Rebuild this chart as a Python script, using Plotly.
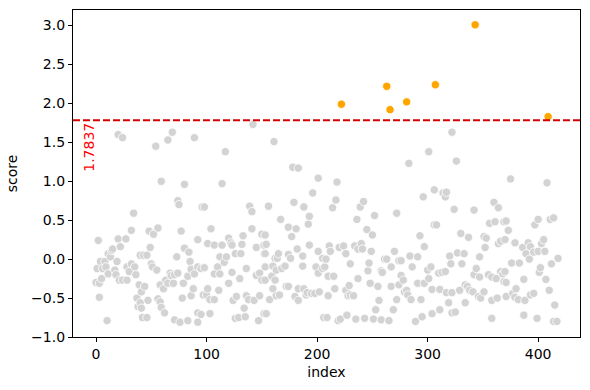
import plotly.graph_objects as go

threshold = 1.7837

# gray (below threshold) points: index and score
idx_low = [
    0, 1, 2, 3, 3, 4, 5, 6, 8, 9, 10, 11, 11, 13, 14, 15, 17, 18, 19, 20, 20, 21, 22, 24, 24, 27, 28, 28, 30, 32, 32, 34, 35, 36, 37, 38, 39, 40, 40, 41, 41, 42, 43,
    44, 46, 46, 47, 48, 49, 50, 51, 52, 54, 55, 56, 56, 58, 58, 59, 59, 61, 62, 63, 65, 65, 67, 68, 69, 70, 71, 71, 73, 74, 74, 75, 76, 77, 78, 79, 80, 80, 83, 83, 84, 85, 86, 86, 88, 89, 89, 92, 92, 92, 92, 95, 95, 96, 97,
    98, 98, 100, 101, 101, 103, 103, 104, 107, 107, 107, 110, 111, 112, 112, 114, 114, 116, 117, 118, 120, 120, 122, 123, 123, 124, 126, 126, 127, 129, 130, 131, 132, 133, 134, 135, 136, 136, 138, 139, 141, 141, 142, 143, 145, 145, 147, 148, 148, 150, 150, 152, 152, 152,
    153, 153, 153, 153, 154, 154, 156, 157, 159, 160, 160, 161, 162, 162, 163, 163, 164, 165, 166, 167, 168, 171, 172, 174, 174, 174, 176, 177, 178, 179, 180, 181, 182, 183, 183, 183, 187, 187, 188, 188, 190, 191, 192, 193, 193, 195, 196, 198, 199, 201, 201, 201, 202, 205, 205, 206,
    207, 208, 209, 210, 210, 211, 212, 214, 215, 216, 217, 218, 219, 220, 221, 224, 226, 226, 227, 228, 229, 230, 230, 233, 234, 235, 237, 237, 236, 239, 240, 241, 242, 243, 245, 246, 247, 248, 249, 250, 251, 252, 253, 255, 256, 258, 258, 259, 261,
    263, 265, 267, 267, 269, 270, 272, 272, 274, 274, 276, 276, 278, 279, 281, 282, 283, 284, 285, 286, 289, 291, 291, 293, 294, 295, 296, 297, 297, 300, 301, 301, 303, 304, 304, 306, 306, 308, 310, 311, 311, 313, 314,
    316, 316, 317, 317, 319, 320, 321, 322, 322, 322, 324, 325, 326, 327, 329, 330, 331, 333, 334, 334, 336, 337, 338, 341, 342, 342, 344, 346, 347, 347, 348, 351, 351, 352, 353, 355, 356, 358, 358, 358, 360, 361, 362, 363, 364, 364, 366, 366, 368, 369, 369,
    370, 370, 371, 371, 371, 373, 375, 376, 377, 379, 379, 380, 382, 383, 386, 387, 387, 388, 389, 391, 392, 393, 393, 396, 396, 397, 399, 400, 400, 401, 402, 403, 405, 406, 407, 408, 410, 411, 412, 414, 414, 415, 417, 418,
]
score_low = [
    -0.30, -0.12, 0.24, -0.49, -0.31, -0.03, -0.25, -0.12, -0.03, -0.10, -0.79, 0.07, -0.19, 0.03, 0.11, 0.13, -0.14, -0.20, -0.03, 1.60, 0.26, -0.27, 0.16, 1.56, -0.27, 0.26, -0.27, -0.10, -0.16, 0.37, -0.06, 0.59, -0.10, -0.20, -0.50, -0.61, -0.33, -0.56, 0.05, -0.42, -0.63, -0.75, 0.05,
    -0.35, 0.05, -0.75, -0.53, 0.36, 0.15, -0.06, -0.10, 0.32, 1.45, -0.14, 0.40, -0.51, -0.55, -0.33, 1.00, -0.62, -0.38, -0.69, -0.27, 1.53, -0.31, -0.18, -0.21, 1.63, -0.31, -0.20, -0.78, 0.03, -0.18, 0.75, 0.70, -0.81, 0.36, -0.50, -0.31, 0.14, 0.96, -0.22, -0.79, 0.09, -0.03, -0.13, -0.47, -0.38, 1.56, -0.19, 0.25, -0.10, -0.69, -0.81, -0.12, -0.71, 0.67, -0.46,
    -0.11, 0.67, -0.46, 0.20, -0.38, -0.52, -0.70, 0.39, 0.18, -0.19, -0.52, -0.10, -0.40, 0.03, -0.19, 0.97, 0.18, -0.04, 1.38, 0.03, 0.27, -0.31, 0.21, 0.18, -0.17, -0.53, 0.07, -0.76, -0.48, -0.75, -0.25, 0.07, 0.19, 0.30, -0.63, -0.74, -0.12, -0.47, -0.52, 0.68, 0.61, 0.39, 1.73, -0.53, -0.21, 0.15, -0.79, -0.18, -0.47, -0.27, 0.32, 0.18, 0.07, -0.70,
    0.31, 0.07, -0.10, -0.27, 0.19, -0.70, 0.68, -0.52, -0.22, -0.09, -0.38, 1.51, 0.01, -0.27, -0.14, -0.47, 0.01, 0.07, -0.46, 0.51, -0.12, -0.09, -0.35, 0.41, 0.06, -0.35, 0.01, 0.29, 1.18, 0.73, -0.48, 0.39, 0.13, 1.17, -0.38, -0.53, 0.04, -0.09, 0.67, -0.38, -0.46, -0.43, 0.45, 0.18, 0.55, -0.44, 0.85, -0.44, -0.10, 1.04, 0.10, -0.18, -0.42, 0.01, -0.12, -0.75,
    -0.10, 0.00, -0.75, -0.22, -0.47, 0.17, 0.10, 0.66, -0.22, -0.38, 0.76, 0.99, -0.79, 0.15, -0.77, 0.17, 0.07, -0.40, -0.72, -0.47, -0.34, -0.06, -0.46, -0.47, 0.17, -0.77, 0.13, -0.25, 0.51, 0.67, 0.20, 0.13, 0.74, -0.76, 0.38, -0.15, -0.05, -0.31, 0.10, 0.31, -0.77, 0.56, -0.65, -0.35, -0.53, -0.15, -0.78, -0.17, 0.00,
    0.00, -0.79, -0.10, -0.35, -0.65, 0.10, 0.59, -0.52, -0.02, -0.33, -0.02, -0.21, -0.27, -0.42, -0.40, -0.46, 1.23, 0.04, -0.52, -0.10, -0.80, 0.03, -0.31, 0.30, -0.52, -0.74, 0.80, 0.16, -0.31, -0.14, -0.25, 1.38, -0.10, -0.70, -0.39, 0.89, 0.44, 0.44, -0.18, -0.39, -0.65, -0.17, 0.85,
    -0.16, 0.80, 0.86, -0.43, -0.56, 0.04, -0.06, 1.63, -0.43, -0.69, 0.64, -0.68, 1.26, 0.08, -0.40, 0.33, -0.06, 0.07, -0.33, -0.56, -0.35, 0.28, -0.40, -0.42, 0.63, -0.20, -0.12, -0.48, 0.03, -0.23, -0.50, 0.29, -0.42, 0.15, 0.27, -0.20, 0.46, -0.23, -0.53, -0.76, 0.73, 0.48, -0.25, -0.50, 0.20, 0.66, 0.23, -0.16, -0.19, 0.48, -0.29,
    0.25, -0.16, 0.49, -0.30, -0.48, 0.37, 1.03, -0.05, -0.44, 0.21, -0.49, -0.38, -0.52, -0.05, 0.15, -0.72, -0.26, -0.53, 0.07, 0.21, 0.00, -0.46, 0.16, 0.09, -0.44, 0.44, -0.76, 0.51, 0.10, -0.17, -0.11, 0.20, 0.25, 0.10, -0.26, 0.98, -0.40, 0.51, -0.06, 0.53, -0.80, -0.59, -0.80, 0.01,
]

# orange (above threshold) points
idx_high = [222, 263, 266, 281, 307, 343, 409]
score_high = [1.99, 2.22, 1.92, 2.02, 2.24, 3.01, 1.83]

x_ticks = [0, 100, 200, 300, 400]
y_ticks = [-1.0, -0.5, 0.0, 0.5, 1.0, 1.5, 2.0, 2.5, 3.0]

FONT = "DejaVu Sans"

fig = go.Figure()
fig.add_trace(go.Scatter(
    x=idx_low, y=score_low, mode="markers",
    marker=dict(color="#d3d3d3", size=8.3, line=dict(color="white", width=0.8)),
    showlegend=False, hoverinfo="skip"))
fig.add_trace(go.Scatter(
    x=idx_high, y=score_high, mode="markers",
    marker=dict(color="#ffa500", size=8.3, line=dict(color="white", width=0.8)),
    showlegend=False, hoverinfo="skip"))

fig.add_shape(type="line", xref="paper", yref="y", x0=0, x1=1, y0=threshold, y1=threshold,
              line=dict(color="#d40000", width=2, dash="7px,3px"))
fig.add_annotation(x=-6.6, y=1.44, xref="x", yref="y", text=f"{threshold:.4f}",
                   textangle=-90, showarrow=False, xanchor="center", yanchor="middle",
                   font=dict(family=FONT, size=14, color="red"))

axis_common = dict(showline=True, linecolor="black", linewidth=1.3, mirror=True,
                   ticks="outside", ticklen=4, tickwidth=1.3, tickcolor="black", showgrid=False,
                   zeroline=False, tickfont=dict(family=FONT, size=14, color="black"),
                   title_font=dict(family=FONT, size=14, color="black"))

fig.update_xaxes(range=[-20.85, 437.85], tickvals=x_ticks, title_text="index",
                 title_standoff=6, **axis_common)
fig.update_yaxes(range=[-1.0, 3.2], tickvals=y_ticks, tickformat=".1f", title_text="score",
                 title_standoff=10, **axis_common)

fig.update_layout(width=590, height=390, margin=dict(l=73, r=10, t=10, b=53),
                  plot_bgcolor="white", paper_bgcolor="white",
                  font=dict(family=FONT, size=14, color="black"))

fig.write_html("out.html", config={"displayModeBar": False},
               post_script="document.body.style.margin='0';")
